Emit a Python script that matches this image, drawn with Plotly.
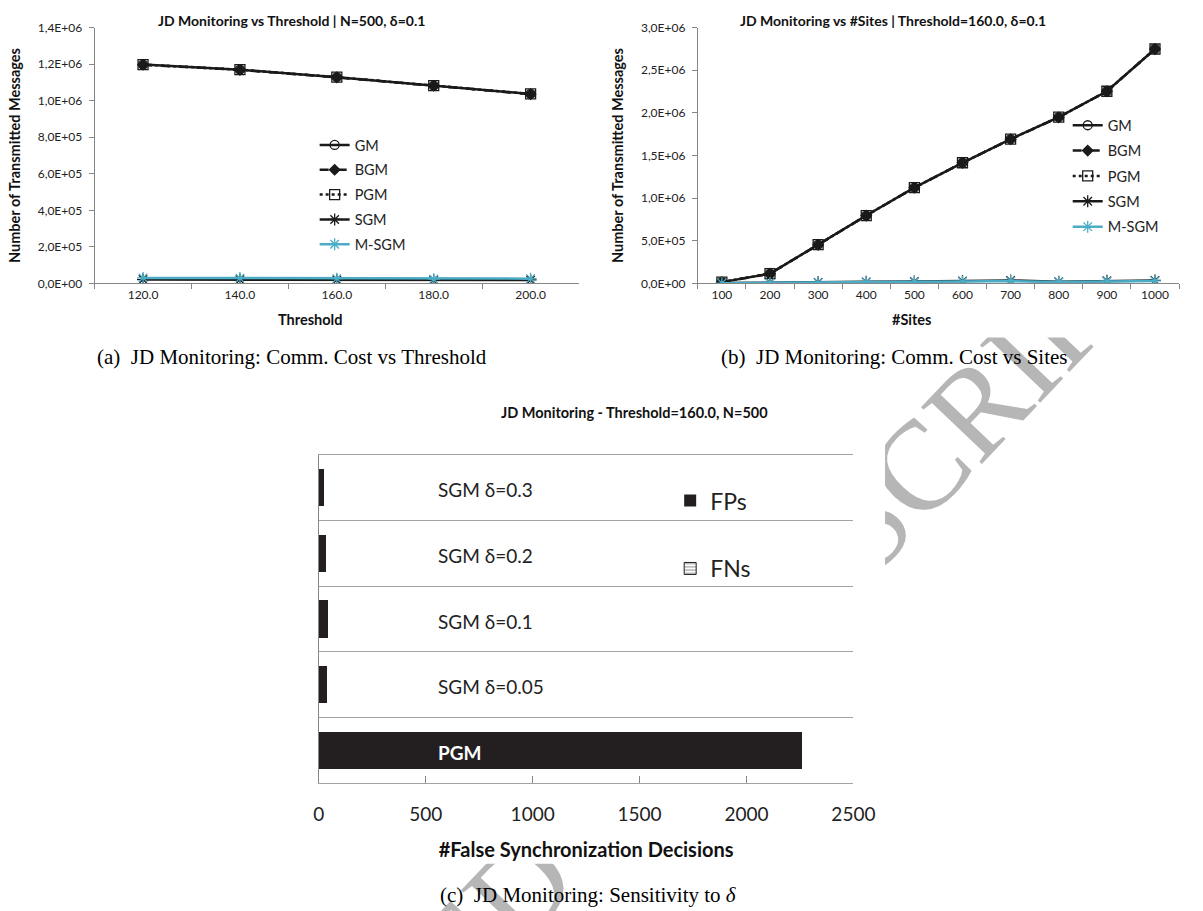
import math
import plotly.graph_objects as go

W, H = 1203, 911

# ---------------- data: (a) cost vs threshold ----------------
A_THRESHOLDS = ["120.0", "140.0", "160.0", "180.0", "200.0"]
A_GM = [1.198e6, 1.170e6, 1.129e6, 1.083e6, 1.037e6]
A_BGM = [1.197e6, 1.169e6, 1.128e6, 1.082e6, 1.036e6]
A_PGM = [1.198e6, 1.170e6, 1.129e6, 1.083e6, 1.037e6]
A_SGM = [2.1e4, 2.0e4, 1.9e4, 1.7e4, 1.9e4]
A_MSGM = [3.0e4, 2.9e4, 2.6e4, 2.3e4, 2.6e4]
A_YTICKS = [0, 2e5, 4e5, 6e5, 8e5, 1e6, 1.2e6, 1.4e6]
A_YTICKTEXT = ["0,0E+00", "2,0E+05", "4,0E+05", "6,0E+05", "8,0E+05",
               "1,0E+06", "1,2E+06", "1,4E+06"]

# ---------------- data: (b) cost vs sites ----------------
B_SITES = ["100", "200", "300", "400", "500", "600", "700", "800", "900", "1000"]
B_GM = [1.5e4, 1.15e5, 4.54e5, 7.96e5, 1.123e6, 1.415e6, 1.692e6, 1.950e6, 2.254e6, 2.750e6]
B_BGM = [1.4e4, 1.14e5, 4.53e5, 7.95e5, 1.122e6, 1.414e6, 1.691e6, 1.949e6, 2.253e6, 2.749e6]
B_PGM = [1.5e4, 1.15e5, 4.54e5, 7.96e5, 1.123e6, 1.415e6, 1.692e6, 1.950e6, 2.254e6, 2.750e6]
B_SGM = [5e3, 7e3, 1.2e4, 1.8e4, 2.3e4, 2.8e4, 3.4e4, 2.0e4, 3.0e4, 3.5e4]
B_MSGM = [3e3, 5e3, 9e3, 1.4e4, 1.8e4, 2.3e4, 2.7e4, 1.6e4, 2.5e4, 2.9e4]
B_YTICKS = [0, 5e5, 1e6, 1.5e6, 2e6, 2.5e6, 3e6]
B_YTICKTEXT = ["0,0E+00", "5,0E+05", "1,0E+06", "1,5E+06", "2,0E+06", "2,5E+06", "3,0E+06"]

# ---------------- data: (c) false sync decisions ----------------
C_CATEGORIES = ["SGM δ=0.3", "SGM δ=0.2", "SGM δ=0.1", "SGM δ=0.05", "PGM"]
C_FPS = [24, 33, 40, 38, 2256]
C_FNS = [0, 0, 0, 0, 0]
C_XTICKS = [0, 500, 1000, 1500, 2000, 2500]

SERIES = ["GM", "BGM", "PGM", "SGM", "M-SGM"]

# ---------------- styles ----------------
SANS = "Lato"
SERIF = "Liberation Serif"
AXIS_GRAY = "#868686"
GRID_GRAY = "#a3a3a3"
TXT = "#222222"
CYAN = "#4BACC6"
BLACK = "#1a1a1a"

STYLE = {
    "GM": dict(dash="solid", symbol="circle-open", color=BLACK, size=9),
    "BGM": dict(dash="dash", symbol="diamond", color=BLACK, size=8),
    "PGM": dict(dash="dot", symbol="square-open", color=BLACK, size=10),
    "SGM": dict(dash="solid", symbol="asterisk-open", color=BLACK, size=10),
    "M-SGM": dict(dash="solid", symbol="asterisk-open", color=CYAN, size=10),
}


def px_x(p):
    return p / W


def px_y(p):
    return 1 - p / H


fig = go.Figure()

A_DATA = {"GM": A_GM, "BGM": A_BGM, "PGM": A_PGM, "SGM": A_SGM, "M-SGM": A_MSGM}
B_DATA = {"GM": B_GM, "BGM": B_BGM, "PGM": B_PGM, "SGM": B_SGM, "M-SGM": B_MSGM}

for (data, cats, xa, ya, leg, pref) in [
    (A_DATA, A_THRESHOLDS, "x", "y", "legend", "a"),
    (B_DATA, B_SITES, "x2", "y2", "legend2", "b"),
]:
    for name in SERIES:
        st = STYLE[name]
        fig.add_trace(go.Scatter(
            x=cats, y=data[name], name=name, mode="lines+markers",
            xaxis=xa, yaxis=ya, legend=leg, legendgroup=pref + name,
            line=dict(color=st["color"], width=2.5, dash=st["dash"]),
            marker=dict(symbol=st["symbol"], size=st["size"], color=st["color"],
                        line=dict(color=st["color"], width=1.3)),
            hoverinfo="x+y+name",
        ))

# (c) bars
fig.add_trace(go.Bar(
    y=C_CATEGORIES, x=C_FPS, name="FPs", orientation="h",
    xaxis="x3", yaxis="y3", legend="legend3", legendgroup="fps",
    marker=dict(color="#231f20", line=dict(width=0)),
))
fig.add_trace(go.Bar(
    y=C_CATEGORIES, x=C_FNS, name="FNs", orientation="h",
    xaxis="x3", yaxis="y3", legend="legend3", legendgroup="fns",
    marker=dict(color="white", line=dict(color="#231f20", width=1),
                pattern=dict(shape="-", fgcolor="#231f20", bgcolor="white", size=4, solidity=0.3)),
))

tickfont_small = dict(family=SANS, size=12, color=TXT)
title_font_small = dict(family=SANS, size=14.5, color="#111", weight="bold")

common_x = dict(type="category", showline=True, linecolor=AXIS_GRAY, linewidth=1,
                ticks="outside", ticklen=5, tickcolor=AXIS_GRAY, tickson="boundaries",
                showgrid=False, zeroline=False, tickfont=tickfont_small, fixedrange=True)
common_y = dict(showline=True, linecolor=AXIS_GRAY, linewidth=1, ticks="outside", ticklen=5,
                tickcolor=AXIS_GRAY, showgrid=False, zeroline=False, tickfont=tickfont_small,
                ticklabelstandoff=4, fixedrange=True)

fig.update_layout(
    width=W, height=H, margin=dict(l=0, r=0, t=0, b=0),
    paper_bgcolor="white", plot_bgcolor="rgba(0,0,0,0)",
    font=dict(family=SANS, color=TXT),
    barmode="stack", bargap=0.43,
    xaxis=dict(common_x, domain=[px_x(90.7), px_x(586.7)], range=[-0.5, 4.5], anchor="y"),
    yaxis=dict(common_y, domain=[px_y(280), px_y(20)], range=[0, 1.4e6], anchor="x",
               tickvals=A_YTICKS, ticktext=A_YTICKTEXT,
               title=dict(text="Number of Transmitted Messages", font=title_font_small, standoff=13)),
    xaxis2=dict(common_x, domain=[px_x(708.3), px_x(1201)], range=[-0.5, 9.5], anchor="y2"),
    yaxis2=dict(common_y, domain=[px_y(280), px_y(20)], range=[0, 3e6], anchor="x2",
                tickvals=B_YTICKS, ticktext=B_YTICKTEXT,
                title=dict(text="Number of Transmitted Messages", font=title_font_small, standoff=13)),
    xaxis3=dict(domain=[px_x(320.3), px_x(867.6)], range=[0, 2500], anchor="y3",
                tickvals=C_XTICKS, showline=True, linecolor=GRID_GRAY, linewidth=1, mirror=True,
                ticks="inside", ticklen=7, tickcolor=AXIS_GRAY, showgrid=False, zeroline=False,
                tickfont=dict(family=SANS, size=19, color=TXT), ticklabelstandoff=14,
                title=dict(text="#False Synchronization Decisions", standoff=18,
                           font=dict(family=SANS, size=20, color="#111", weight="bold")),
                fixedrange=True),
    yaxis3=dict(domain=[px_y(788.3), px_y(454.3)], type="category", range=[4.5, -0.5],
                anchor="x3", tickson="boundaries", showgrid=True, gridcolor=GRID_GRAY,
                gridwidth=1, ticks="", showline=True, linecolor=AXIS_GRAY, linewidth=1,
                categoryorder="array", categoryarray=C_CATEGORIES,
                showticklabels=False, fixedrange=True),
    legend=dict(x=px_x(316), y=px_y(123), xanchor="left", yanchor="top",
                font=dict(family=SANS, size=14.5, color=TXT), bgcolor="rgba(0,0,0,0)",
                traceorder="grouped", tracegroupgap=3, itemclick=False, itemdoubleclick=False),
    legend2=dict(x=px_x(1087), y=px_y(103), xanchor="left", yanchor="top",
                 font=dict(family=SANS, size=14.5, color=TXT), bgcolor="rgba(0,0,0,0)",
                 traceorder="grouped", tracegroupgap=3.5, itemclick=False, itemdoubleclick=False),
    legend3=dict(x=px_x(680), y=px_y(479), xanchor="left", yanchor="top",
                 font=dict(family=SANS, size=23, color=TXT), bgcolor="rgba(0,0,0,0)",
                 traceorder="grouped", tracegroupgap=35, itemclick=False, itemdoubleclick=False),
)

# ---------------- page watermark (behind the three chart images) ----------------
WM_ANGLE = 46.4            # degrees, rising to the right
WM_CX, WM_CY = 616, 779    # centre of the watermark string, page pixels
dx, dy = math.cos(math.radians(WM_ANGLE)), math.sin(math.radians(WM_ANGLE))
shapes = [dict(
    type="line", layer="below", xref="paper", yref="paper",
    x0=px_x(WM_CX - 100 * dx), y0=px_y(WM_CY + 100 * dy),
    x1=px_x(WM_CX + 100 * dx), y1=px_y(WM_CY - 100 * dy),
    line=dict(color="rgba(0,0,0,0)", width=0),
    label=dict(text="ACCEPTED MANUSCRIPT", textangle=-WM_ANGLE, textposition="middle",
               xanchor="center", yanchor="middle",
               font=dict(family=SERIF, size=127, color="#b6b6b6")),
)]
# white backgrounds of the three embedded chart images (they hide the watermark)
for (l, t, r, b) in [(0, 0, 597, 335), (600, 0, 1203, 335), (180, 370, 900, 870)]:
    shapes.append(dict(type="rect", layer="below", xref="paper", yref="paper",
                       x0=px_x(l), x1=px_x(r), y0=px_y(b), y1=px_y(t),
                       fillcolor="white", line=dict(width=0)))
fig.update_layout(shapes=shapes)

ann = [
    dict(text="<b>JD Monitoring vs Threshold | N=500, δ=0.1</b>", x=px_x(292), y=px_y(13),
         font=dict(family=SANS, size=14, color="#111")),
    dict(text="<b>JD Monitoring vs #Sites | Threshold=160.0, δ=0.1</b>", x=px_x(908), y=px_y(13),
         font=dict(family=SANS, size=14, color="#111")),
    dict(text="<b>JD Monitoring - Threshold=160.0, N=500</b>", x=px_x(643), y=px_y(411),
         font=dict(family=SANS, size=14.5, color="#111")),
    dict(text="<b>Threshold</b>", x=px_x(311), y=px_y(317), font=title_font_small),
    dict(text="<b>#Sites</b>", x=px_x(927), y=px_y(317), font=title_font_small),
    dict(text="(a)\u00a0 JD Monitoring: Comm. Cost vs Threshold", x=px_x(293), y=px_y(355),
         font=dict(family=SERIF, size=21, color="#000")),
    dict(text="(b)\u00a0 JD Monitoring: Comm. Cost vs Sites", x=px_x(910), y=px_y(355),
         font=dict(family=SERIF, size=21, color="#000")),
    dict(text="(c)\u00a0 JD Monitoring: Sensitivity to <i>δ</i>", x=px_x(596), y=px_y(902),
         font=dict(family=SERIF, size=21, color="#000")),
]
for a in ann:
    a.update(xref="paper", yref="paper", showarrow=False, xanchor="center", yanchor="middle")

# category labels of chart (c), drawn inside the plot area
for cat in C_CATEGORIES:
    if cat == "PGM":
        txt, col = "<b>%s</b>" % cat, "white"
    else:
        txt, col = cat, TXT
    ann.append(dict(text=txt, xref="paper", x=px_x(440), xanchor="left",
                    yref="y3", y=cat, yanchor="middle", yshift=-2, showarrow=False,
                    font=dict(family=SANS, size=19, color=col)))

fig.update_layout(annotations=ann)

fig.write_html("out.html")
